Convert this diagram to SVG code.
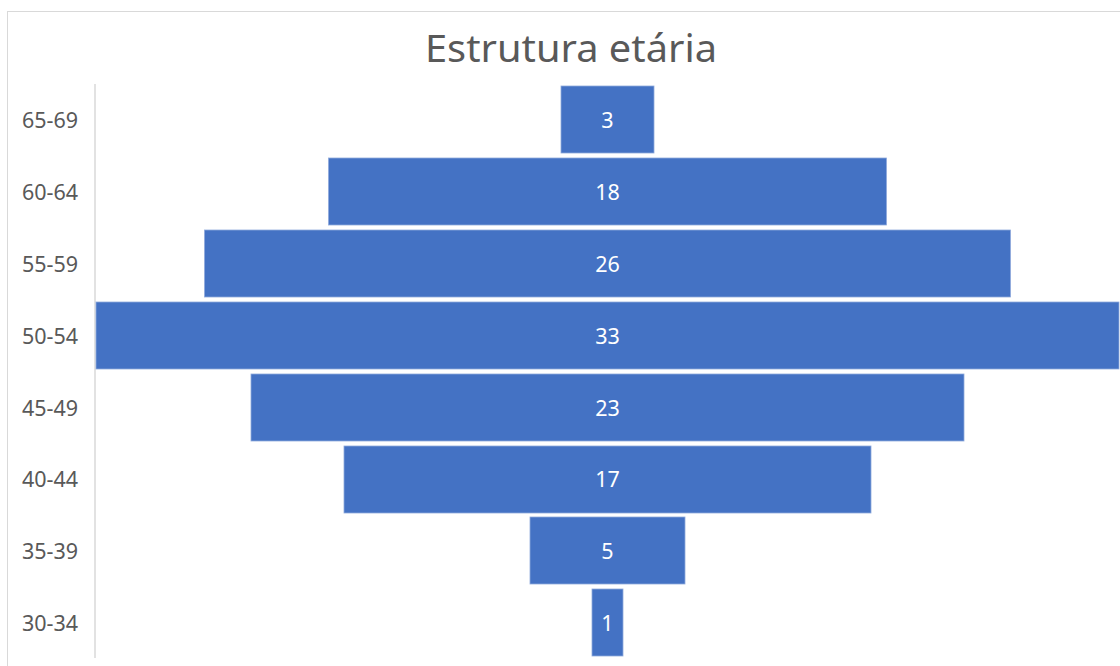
<svg xmlns="http://www.w3.org/2000/svg" width="1120" height="666" viewBox="0 0 1120 666">
<style>
.bar{fill:#4472C4;stroke:#8FAADC;stroke-width:0.8}
.val{font-family:"Noto Sans","Open Sans","DejaVu Sans",sans-serif;font-size:21.5px;fill:#FFFFFF;text-anchor:middle}
.cat{font-family:"Noto Sans","Open Sans","DejaVu Sans",sans-serif;font-size:21.5px;fill:#595959;text-anchor:end}
.title{font-family:"Noto Sans","Open Sans","DejaVu Sans",sans-serif;font-size:39px;fill:#595959;text-anchor:middle}
</style>
<rect x="0" y="0" width="1120" height="666" fill="#FFFFFF"/>
<rect x="7.5" y="11.5" width="1200" height="700" fill="none" stroke="#D9D9D9" stroke-width="1"/>
<text class="title" x="571" y="62" textLength="292" lengthAdjust="spacingAndGlyphs">Estrutura etária</text>
<g id="axis">
<line x1="95" y1="84" x2="95" y2="658" stroke="#D9D9D9" stroke-width="1.5"/>
</g>
<g id="labels">
<text class="cat" x="78" y="128">65-69</text>
<text class="cat" x="78" y="200">60-64</text>
<text class="cat" x="78" y="272">55-59</text>
<text class="cat" x="78" y="344">50-54</text>
<text class="cat" x="78" y="416">45-49</text>
<text class="cat" x="78" y="487">40-44</text>
<text class="cat" x="78" y="559">35-39</text>
<text class="cat" x="78" y="631">30-34</text>
</g>
<g id="bar-65-69"><rect class="bar" x="561" y="86" width="93" height="67"/><text class="val" x="607.5" y="128">3</text></g>
<g id="bar-60-64"><rect class="bar" x="328.5" y="158" width="558" height="67"/><text class="val" x="607.5" y="200">18</text></g>
<g id="bar-55-59"><rect class="bar" x="204.5" y="230" width="806" height="67"/><text class="val" x="607.5" y="272">26</text></g>
<g id="bar-50-54"><rect class="bar" x="96" y="302" width="1023" height="67"/><text class="val" x="607.5" y="344">33</text></g>
<g id="bar-45-49"><rect class="bar" x="251" y="374" width="713" height="67"/><text class="val" x="607.5" y="416">23</text></g>
<g id="bar-40-44"><rect class="bar" x="344" y="446" width="527" height="67"/><text class="val" x="607.5" y="487">17</text></g>
<g id="bar-35-39"><rect class="bar" x="530" y="517" width="155" height="67"/><text class="val" x="607.5" y="559">5</text></g>
<g id="bar-30-34"><rect class="bar" x="592" y="589" width="31" height="67"/><text class="val" x="607.5" y="631">1</text></g>
</svg>
